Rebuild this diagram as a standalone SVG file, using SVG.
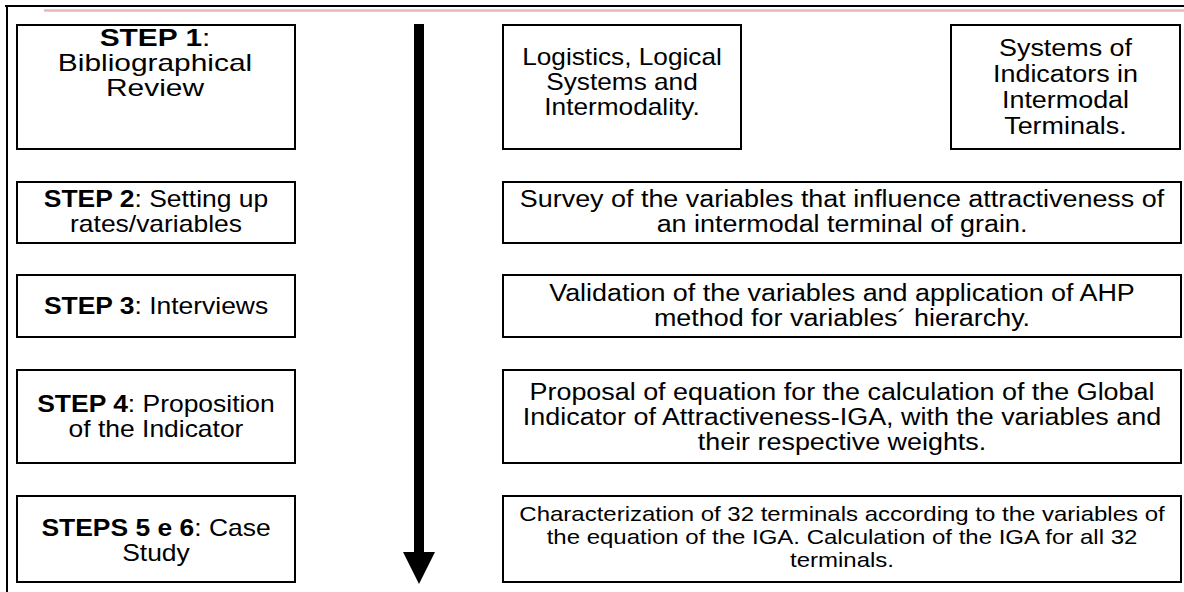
<svg xmlns="http://www.w3.org/2000/svg" width="1184" height="592" viewBox="0 0 1184 592">
<style>
.box{fill:#fff;stroke:#000;stroke-width:2}
text{font-family:"Liberation Sans",Arial,sans-serif;font-size:23px;fill:#000;text-anchor:middle}
.sm{font-size:20px}
.b{font-weight:bold}
</style>
<rect width="1184" height="592" fill="#fff"/>
<line x1="5" y1="6" x2="1184" y2="6" stroke="#000" stroke-width="2"/>
<line x1="44" y1="10.5" x2="1184" y2="10.5" stroke="#e6b9b8" stroke-width="2.5"/>
<line x1="7" y1="6" x2="7" y2="592" stroke="#000" stroke-width="2"/>
<g id="step1"><rect class="box" x="17" y="25" width="278" height="124"/>
<g transform="translate(155 0) scale(1.3 1)">
<text x="0" y="46"><tspan class="b">STEP 1</tspan>:</text>
<text x="0" y="71">Bibliographical</text>
<text x="0" y="96">Review</text></g></g>
<g id="logistics"><rect class="box" x="503" y="25" width="238" height="124"/>
<g transform="translate(622 0) scale(1.14 1)">
<text x="0" y="65">Logistics, Logical</text>
<text x="0" y="90">Systems and</text>
<text x="0" y="115">Intermodality.</text></g></g>
<g id="systems"><rect class="box" x="951" y="25" width="229" height="124"/>
<g transform="translate(1065.5 0) scale(1.17 1)">
<text x="0" y="56">Systems of</text>
<text x="0" y="82">Indicators in</text>
<text x="0" y="108">Intermodal</text>
<text x="0" y="134">Terminals.</text></g></g>
<g id="step2"><rect class="box" x="17" y="182" width="278" height="61"/>
<g transform="translate(156 0) scale(1.15 1)">
<text x="0" y="207"><tspan class="b">STEP 2</tspan>: Setting up</text>
<text x="0" y="232">rates/variables</text></g></g>
<g id="survey"><rect class="box" x="503" y="182" width="678" height="61"/>
<g transform="translate(842 0) scale(1.17 1)">
<text x="0" y="207">Survey of the variables that influence attractiveness of</text>
<text x="0" y="232">an intermodal terminal of grain.</text></g></g>
<g id="step3"><rect class="box" x="17" y="275" width="278" height="62"/>
<g transform="translate(156 0) scale(1.15 1)">
<text x="0" y="314"><tspan class="b">STEP 3</tspan>: Interviews</text></g></g>
<g id="validation"><rect class="box" x="503" y="275" width="678" height="62"/>
<g transform="translate(842 0) scale(1.17 1)">
<text x="0" y="301">Validation of the variables and application of AHP</text>
<text x="0" y="326">method for variables´ hierarchy.</text></g></g>
<g id="step4"><rect class="box" x="17" y="370" width="278" height="93"/>
<g transform="translate(156 0) scale(1.15 1)">
<text x="0" y="412"><tspan class="b">STEP 4</tspan>: Proposition</text>
<text x="0" y="437">of the Indicator</text></g></g>
<g id="proposal"><rect class="box" x="503" y="370" width="678" height="93"/>
<g transform="translate(842 0) scale(1.17 1)">
<text x="0" y="400">Proposal of equation for the calculation of the Global</text>
<text x="0" y="425">Indicator of Attractiveness-IGA, with the variables and</text>
<text x="0" y="450">their respective weights.</text></g></g>
<g id="step56"><rect class="box" x="17" y="496" width="278" height="86"/>
<g transform="translate(156 0) scale(1.15 1)">
<text x="0" y="536"><tspan class="b">STEPS 5 e 6</tspan>: Case</text>
<text x="0" y="561">Study</text></g></g>
<g id="characterization"><rect class="box" x="503" y="496" width="678" height="86"/>
<g transform="translate(842 0) scale(1.2 1)">
<text class="sm" x="0" y="521">Characterization of 32 terminals according to the variables of</text>
<text class="sm" x="0" y="544">the equation of the IGA. Calculation of the IGA for all 32</text>
<text class="sm" x="0" y="567">terminals.</text></g></g>
<g id="connectors">
<rect x="414" y="24" width="10" height="530" fill="#000"/>
<polygon points="403,552 435,552 419,584" fill="#000"/>
</g>
</svg>
